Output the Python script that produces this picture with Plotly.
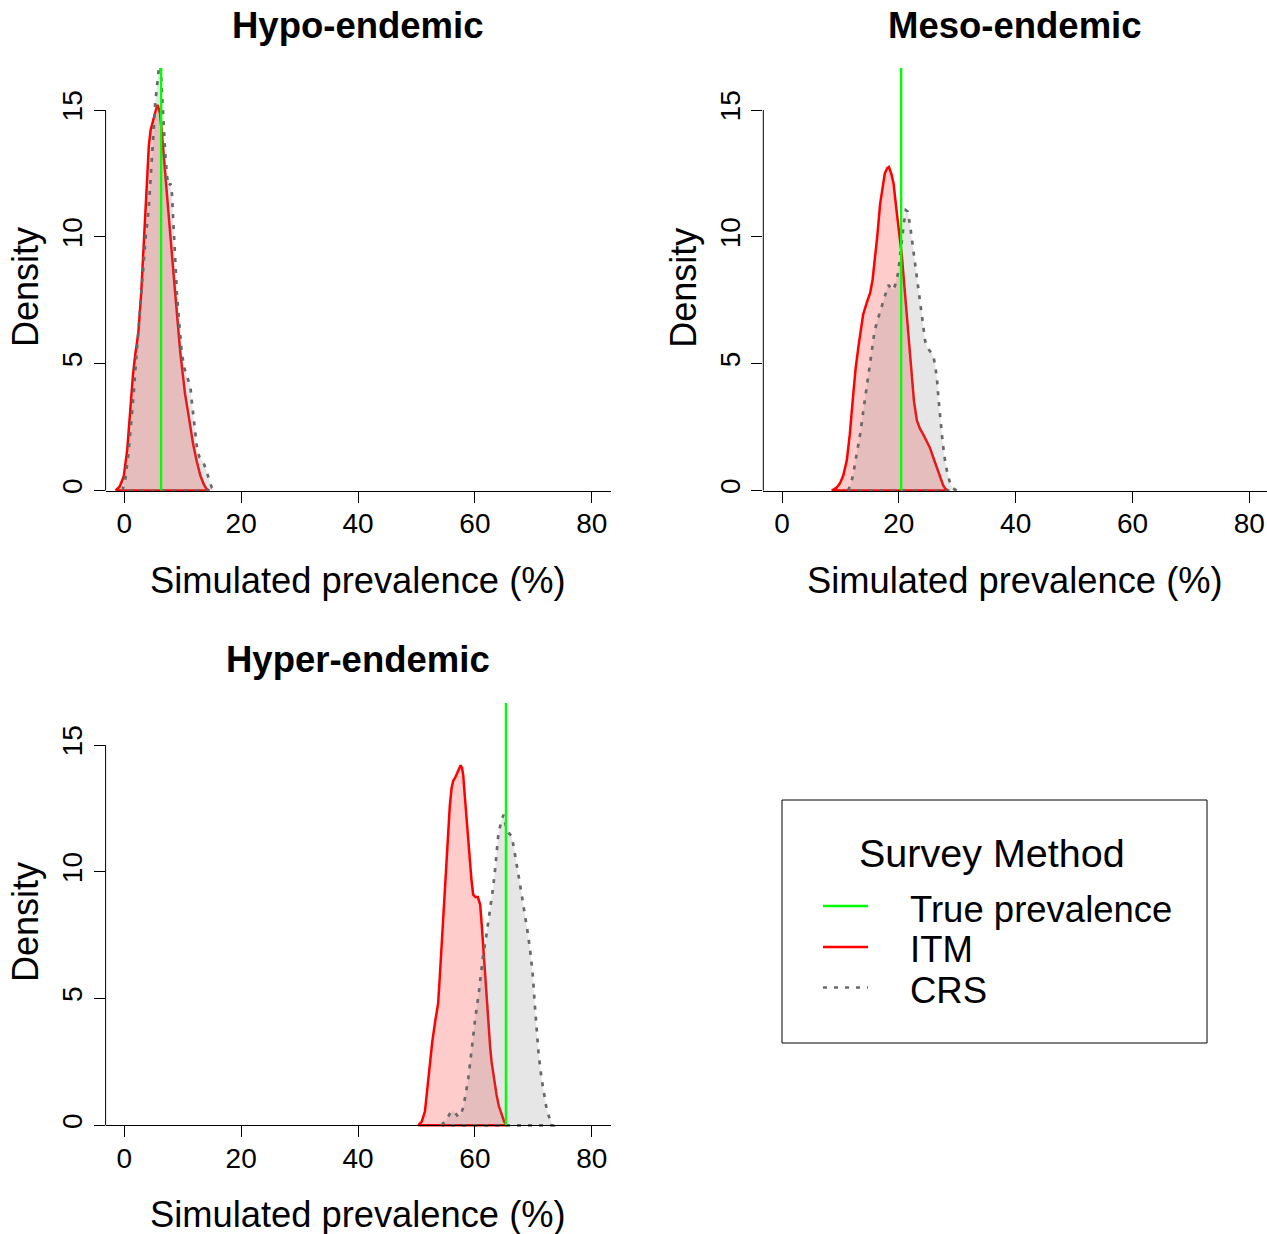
import plotly.graph_objects as go

W, H = 1267, 1234
FONT = "Liberation Sans, Arial, sans-serif"

# ---------------- data ----------------
panel_titles = ["Hypo-endemic", "Meso-endemic", "Hyper-endemic"]
true_prevalence = [6.3, 20.4, 65.3]
x_ticks = [0, 20, 40, 60, 80]
y_ticks = [0, 5, 10, 15]
legend_title = "Survey Method"
legend_labels = ["True prevalence", "ITM", "CRS"]

hypo_itm_x = [-1.5, -0.8, -0.1, 0.5, 1.0, 1.5, 1.9, 2.4, 2.9, 3.3, 3.6, 3.9, 4.2, 4.5, 5.0, 5.4, 5.7,
              6.1, 6.5, 7.0, 7.4, 7.9, 8.3, 8.7, 9.1, 9.6, 10.0, 10.4, 10.9, 11.3, 11.8, 12.4, 13.0,
              13.6, 14.0, 14.5]
hypo_itm_y = [0, 0.15, 0.55, 1.6, 3.1, 4.6, 5.4, 6.2, 7.8, 9.6, 11.1, 12.6, 13.6, 14.2, 14.7, 15.0, 15.2,
              14.9, 13.9, 12.6, 11.4, 10.1, 8.9, 7.8, 6.6, 5.4, 4.6, 3.8, 3.1, 2.5, 1.8, 1.15, 0.6,
              0.25, 0.08, 0]
hypo_crs_x = [-0.3, 0.2, 0.7, 1.2, 1.6, 2.0, 2.45, 2.9, 3.3, 3.7, 4.15, 4.5, 4.75, 5.0, 5.3, 5.6, 5.9,
              6.15, 6.35, 6.6, 7.0, 7.3, 7.6, 7.9, 8.15, 8.4, 8.7, 9.0, 9.4, 9.85, 10.3, 10.7, 11.0,
              11.3, 11.6, 11.9, 12.2, 12.5, 12.9, 13.3, 13.7, 14.1, 14.6, 15.0, 15.3]
hypo_crs_y = [0, 0.5, 1.45, 2.6, 3.8, 5.1, 6.45, 7.8, 9.1, 10.1, 11.05, 12.2, 13.0, 14.1, 15.3, 16.1, 16.6,
              17.0, 16.3, 15.0, 13.3, 12.4, 12.0, 12.1, 11.7, 10.4, 9.1, 7.8, 6.6, 5.4, 4.8, 4.5, 4.35,
              4.1, 3.4, 2.7, 2.0, 1.55, 1.3, 1.2, 1.0, 0.75, 0.35, 0.1, 0]

meso_itm_x = [8.5, 9.3, 9.9, 10.5, 11.1, 11.6, 12.2, 12.6, 13.1, 13.5, 13.9, 14.5, 15.1, 15.5, 15.9, 16.3,
              16.8, 17.2, 17.6, 18.0, 18.3, 18.7, 19.1, 19.6, 20.0, 20.5, 20.9, 21.35, 21.8, 22.2, 22.6,
              23.1, 23.6, 24.2, 24.7, 25.3, 25.9, 26.5, 27.0, 27.6, 28.0, 28.5]
meso_itm_y = [0, 0.1, 0.27, 0.6, 1.2, 2.2, 3.8, 4.8, 5.7, 6.4, 6.95, 7.4, 7.8, 8.3, 9.1, 10.0,
              11.3, 12.0, 12.5, 12.7, 12.75, 12.5, 12.1, 11.05, 10.3, 9.3, 8.2, 7.0, 5.7, 4.5, 3.5,
              2.75, 2.45, 2.2, 1.95, 1.7, 1.3, 0.9, 0.55, 0.2, 0.06, 0]
meso_crs_x = [11.3, 11.8, 12.2, 12.8, 13.4, 13.9, 14.5, 14.9, 15.4, 15.8, 16.2, 16.6, 17.1, 17.6, 18.2,
              18.6, 19.1, 19.5, 19.9, 20.2, 20.5, 20.9, 21.2, 21.5, 21.9, 22.3, 22.8, 23.2, 23.6, 24.0,
              24.5, 24.9, 25.3, 25.7, 26.0, 26.5, 26.8, 27.1, 27.5, 27.9, 28.3, 28.8, 29.3, 29.9]
meso_crs_y = [0, 0.25, 0.66, 1.4, 2.25, 3.1, 4.1, 4.9, 5.7, 6.2, 6.6, 6.9, 7.25, 7.7, 8.1,
              8.0, 7.9, 8.2, 8.6, 9.2, 9.9, 10.6, 11.05, 11.0, 10.5, 9.8, 9.1, 8.3, 7.5, 6.8,
              5.9, 5.65, 5.5, 5.4, 5.2, 4.5, 3.6, 2.75, 1.9, 1.2, 0.7, 0.27, 0.08, 0]

hyper_itm_x = [50.3, 50.9, 51.45, 51.9, 52.3, 52.7, 53.2, 53.7, 54.0, 54.3, 54.6, 54.9, 55.2, 55.4, 55.7,
               56.0, 56.3, 56.6, 57.0, 57.55, 57.8, 58.0, 58.3, 58.6, 58.9, 59.15, 59.4, 59.7, 60.1,
               60.5, 60.9, 61.2, 61.4, 61.65, 61.9, 62.1, 62.3, 62.6, 62.85, 63.2, 63.7, 64.1, 64.6,
               65.0, 65.4]
hyper_itm_y = [0, 0.15, 0.55, 1.5, 2.5, 3.3, 4.1, 4.8, 5.9, 7.1, 8.4, 9.7, 10.8, 11.7, 12.6,
               13.3, 13.6, 13.7, 13.9, 14.2, 14.1, 13.8, 12.9, 12.0, 11.2, 10.4, 9.7, 9.1, 9.0,
               9.0, 8.7, 7.8, 7.1, 6.2, 5.4, 4.6, 3.8, 3.1, 2.5, 1.9, 1.2, 0.75, 0.4,
               0.15, 0]
hyper_crs_x = [54.3, 54.7, 55.2, 55.7, 56.2, 56.6, 57.15, 57.6, 58.0, 58.4, 58.86, 59.3, 59.7, 60.1, 60.6,
               61.0, 61.4, 61.9, 62.3, 62.7, 63.1, 63.5, 64.0, 64.5, 64.9, 65.2, 65.5, 65.9, 66.3,
               66.7, 67.1, 67.5, 68.0, 68.5, 69.1, 69.5, 69.95, 70.2, 70.5, 70.9, 71.4, 71.8, 72.26,
               72.8, 73.4]
hyper_crs_y = [0, 0.1, 0.26, 0.45, 0.57, 0.5, 0.33, 0.45, 0.7, 1.2, 1.85, 2.7, 3.55, 4.3, 5.1,
               5.9, 6.7, 7.4, 8.0, 8.6, 9.35, 10.2, 11.45, 12.0, 12.25, 11.9, 11.6, 11.5, 11.4,
               10.9, 10.4, 9.8, 9.1, 8.4, 7.5, 6.8, 5.8, 4.9, 3.8, 2.8, 1.85, 1.2, 0.66,
               0.25, 0]

itm_x = [hypo_itm_x, meso_itm_x, hyper_itm_x]
itm_y = [hypo_itm_y, meso_itm_y, hyper_itm_y]
crs_x = [hypo_crs_x, meso_crs_x, hyper_crs_x]
crs_y = [hypo_crs_y, meso_crs_y, hyper_crs_y]

# ---------------- styles / layout geometry (pixels) ----------------
RED = "#FF0000"
GREEN = "#00FF00"
GREY = "#696969"
RED_FILL = "rgba(255,0,0,0.2)"
GREY_FILL = "rgba(128,128,128,0.2)"
DOTS = "4px,7px"

# px0/px80: pixel of x=0 / x=80 ; L/R plot region ; py0/py15 pixel of y=0 / y=15 ; T/B plot region
geo = [
    dict(px0=124.3, px80=591.8, L=105.6, R=610.5, py0=490.5, py15=110.0, T=68, B=507),
    dict(px0=782.0, px80=1249.3, L=763.3, R=1267.0, py0=490.5, py15=110.0, T=68, B=507),
    dict(px0=124.3, px80=591.8, L=105.6, R=610.5, py0=1125.3, py15=745.0, T=703, B=1142),
]


def fx(px):
    return px / W


def fy(py):
    return 1 - py / H


fig = go.Figure()
layout = dict(
    width=W, height=H, margin=dict(l=0, r=0, t=0, b=0),
    paper_bgcolor="white", plot_bgcolor="white", showlegend=False,
    font=dict(family=FONT, color="black"),
)
shapes = []
annotations = []

for i, g in enumerate(geo):
    sfx = "" if i == 0 else str(i + 1)
    xa, ya = "x" + sfx, "y" + sfx
    sx = (g["px80"] - g["px0"]) / 80.0
    sy = (g["py0"] - g["py15"]) / 15.0
    xr = [(g["L"] - g["px0"]) / sx, (g["R"] - g["px0"]) / sx]
    yr = [(g["py0"] - g["B"]) / sy, (g["py0"] - g["T"]) / sy]

    # ITM polygon
    fig.add_trace(go.Scatter(
        x=itm_x[i] + [itm_x[i][0]], y=itm_y[i] + [0], xaxis=xa, yaxis=ya,
        mode="lines", fill="toself", fillcolor=RED_FILL,
        line=dict(color=RED, width=2.5), name="ITM", hoverinfo="skip"))
    # CRS polygon
    fig.add_trace(go.Scatter(
        x=crs_x[i] + [crs_x[i][0]], y=crs_y[i] + [0], xaxis=xa, yaxis=ya,
        mode="lines", fill="toself", fillcolor=GREY_FILL,
        line=dict(color=GREY, width=2.7, dash=DOTS), name="CRS", hoverinfo="skip"))
    # true prevalence
    fig.add_trace(go.Scatter(
        x=[true_prevalence[i], true_prevalence[i]], y=[0, 100], xaxis=xa, yaxis=ya,
        mode="lines", line=dict(color=GREEN, width=2.3), name="True prevalence", hoverinfo="skip"))

    layout["xaxis" + sfx] = dict(
        domain=[fx(g["L"]), fx(g["R"])], range=xr, anchor="free", position=fy(g["py0"]),
        showline=True, linecolor="black", linewidth=1, showgrid=False, zeroline=False,
        ticks="outside", ticklen=11, tickwidth=1, tickcolor="black",
        tickvals=x_ticks, ticktext=[str(v) for v in x_ticks],
        tickfont=dict(family=FONT, size=28, color="black"), ticklabelstandoff=-3,
        fixedrange=True)
    layout["yaxis" + sfx] = dict(
        domain=[fy(g["B"]), fy(g["T"])], range=yr, anchor=xa,
        showline=False, showgrid=False, zeroline=False,
        ticks="outside", ticklen=11, tickwidth=1, tickcolor="black",
        tickvals=y_ticks, ticktext=[str(v) for v in y_ticks], tickangle=-90,
        tickfont=dict(family=FONT, size=28, color="black"), ticklabelstandoff=0,
        fixedrange=True)
    # y axis line spanning 0..15
    shapes.append(dict(type="line", xref=xa + " domain", yref=ya, x0=0, x1=0,
                       y0=y_ticks[0], y1=y_ticks[-1], line=dict(color="black", width=1)))
    # titles
    cx = (g["L"] + g["R"]) / 2
    annotations.append(dict(text="<b>" + panel_titles[i] + "</b>", xref="paper", yref="paper",
                            x=fx(cx), y=fy(g["T"] - 43), xanchor="center", yanchor="middle",
                            showarrow=False, font=dict(family=FONT, size=36.5, color="black")))
    annotations.append(dict(text="Simulated prevalence (%)", xref="paper", yref="paper",
                            x=fx(cx), y=fy(g["py0"] + 89.5), xanchor="center", yanchor="middle",
                            showarrow=False, font=dict(family=FONT, size=36.3, color="black")))
    annotations.append(dict(text="Density", xref="paper", yref="paper", textangle=-90,
                            x=fx(g["L"] - 80), y=fy((g["T"] + g["B"]) / 2),
                            xanchor="center", yanchor="middle",
                            showarrow=False, font=dict(family=FONT, size=36, color="black")))

# ---------------- legend (drawn) ----------------
shapes.append(dict(type="rect", xref="paper", yref="paper", x0=fx(782), x1=fx(1207),
                   y0=fy(1043), y1=fy(800), line=dict(color="black", width=1),
                   fillcolor="rgba(0,0,0,0)"))
annotations.append(dict(text=legend_title, xref="paper", yref="paper", x=fx(992), y=fy(853),
                        xanchor="center", yanchor="middle", showarrow=False,
                        font=dict(family=FONT, size=39.5, color="black")))
leg_styles = [dict(color=GREEN, width=2.5), dict(color=RED, width=2.5),
              dict(color=GREY, width=2.7, dash=DOTS)]
leg_rows = [906, 947, 987.5]
for lab, st, ry in zip(legend_labels, leg_styles, leg_rows):
    shapes.append(dict(type="line", xref="paper", yref="paper", x0=fx(823), x1=fx(868),
                       y0=fy(ry), y1=fy(ry), line=st))
    annotations.append(dict(text=lab, xref="paper", yref="paper", x=fx(907.5), y=fy(ry + 3),
                            xanchor="left", yanchor="middle", showarrow=False,
                            font=dict(family=FONT, size=36.5, color="black")))

layout["shapes"] = shapes
layout["annotations"] = annotations
fig.update_layout(**layout)

fig.write_html("out.html", config={"displayModeBar": False},
               post_script="document.body.style.margin='0';document.body.style.overflow='hidden';")
